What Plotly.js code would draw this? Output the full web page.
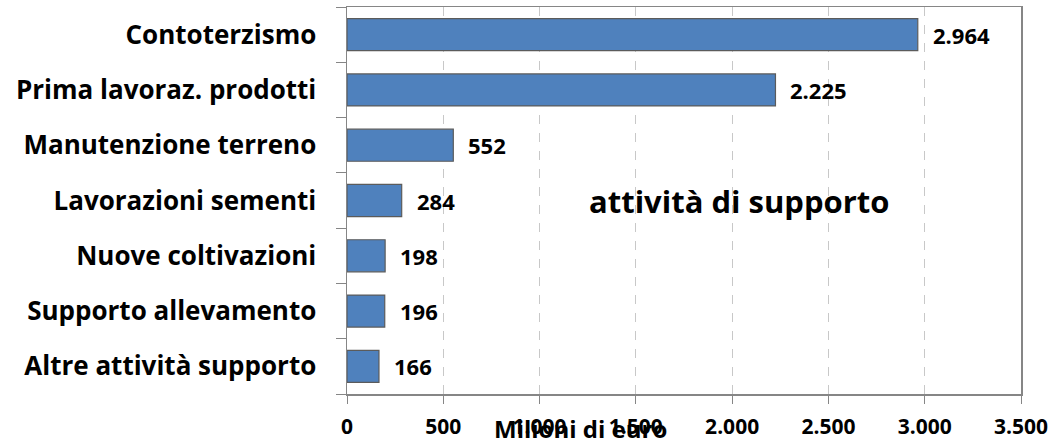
<!DOCTYPE html>
<html>
<head>
<meta charset="utf-8">
<script src="https://cdn.plot.ly/plotly-3.0.1.min.js"></script>
<style>
  html, body { margin: 0; padding: 0; background: #fff; }
  #chart { width: 1056px; height: 441px; }
</style>
</head>
<body>
<div id="chart"></div>
<script>
// Attività di supporto all'agricoltura, milioni di euro
const categories = [
    'Contoterzismo',
    'Prima lavoraz. prodotti',
    'Manutenzione terreno',
    'Lavorazioni sementi',
    'Nuove coltivazioni',
    'Supporto allevamento',
    'Altre attività supporto'
];
const values = [2964, 2225, 552, 284, 198, 196, 166];
const tickVals = [0, 500, 1000, 1500, 2000, 2500, 3000, 3500];

const FONT = '"Open Sans", sans-serif';

// Italian number format: 2964 -> 2.964
function fmt(v) {
    return v.toString().replace(/\B(?=(\d{3})+(?!\d))/g, '.');
}

const trace = {
    type: 'bar',
    orientation: 'h',
    x: values,
    y: categories,
    marker: {
        color: '#4F81BD',
        line: { color: '#5b5b5b', width: 1.2 }
    },
    hoverinfo: 'x+y'
};

// value labels to the right of each bar
const valueLabels = values.map((v, i) => ({
    x: v,
    y: categories[i],
    xref: 'x',
    yref: 'y',
    text: '<b>' + fmt(v) + '</b>',
    showarrow: false,
    xanchor: 'left',
    xshift: 13,
    font: { family: FONT, size: 22, color: '#000' }
}));

const layout = {
    width: 1056,
    height: 441,
    margin: { l: 347, r: 35, t: 7, b: 47 },
    paper_bgcolor: '#fff',
    plot_bgcolor: '#fff',
    showlegend: false,
    bargap: 0.42,
    font: { family: FONT, color: '#000' },
    xaxis: {
        range: [0, 3500],
        tickvals: tickVals,
        ticktext: tickVals.map(v => '<b>' + fmt(v) + '</b>'),
        tickfont: { family: FONT, size: 21, color: '#000' },
        ticks: 'outside',
        ticklen: 8,
        tickcolor: '#868686',
        ticklabelstandoff: 5,
        showgrid: true,
        gridcolor: '#c8c8c8',
        griddash: 'dash',
        gridwidth: 1,
        showline: true,
        linecolor: '#868686',
        linewidth: 1.5,
        mirror: true,
        zeroline: false,
        fixedrange: true
    },
    yaxis: {
        type: 'category',
        autorange: 'reversed',
        tickson: 'boundaries',
        ticks: 'outside',
        ticklen: 10,
        tickcolor: '#868686',
        ticklabelstandoff: 24,
        tickfont: { family: FONT, size: 26, color: '#000' },
        ticktext: categories.map(c => '<b>' + c + '</b>'),
        tickvals: categories,
        showgrid: false,
        showline: true,
        linecolor: '#868686',
        linewidth: 1.5,
        mirror: true,
        zeroline: false,
        fixedrange: true
    },
    annotations: valueLabels.concat([
        {
            text: '<b>attività di supporto</b>',
            xref: 'paper', yref: 'paper',
            x: 0.582, y: 0.5,
            xanchor: 'center', yanchor: 'middle',
            showarrow: false,
            font: { family: FONT, size: 31, color: '#000' }
        },
        {
            text: '<b>Milioni di euro</b>',
            xref: 'paper', yref: 'paper',
            x: 0.346, y: -0.088,
            xanchor: 'center', yanchor: 'middle',
            showarrow: false,
            font: { family: FONT, size: 24, color: '#000' }
        }
    ])
};

Plotly.newPlot('chart', [trace], layout, { displayModeBar: false, staticPlot: true });
</script>
</body>
</html>
